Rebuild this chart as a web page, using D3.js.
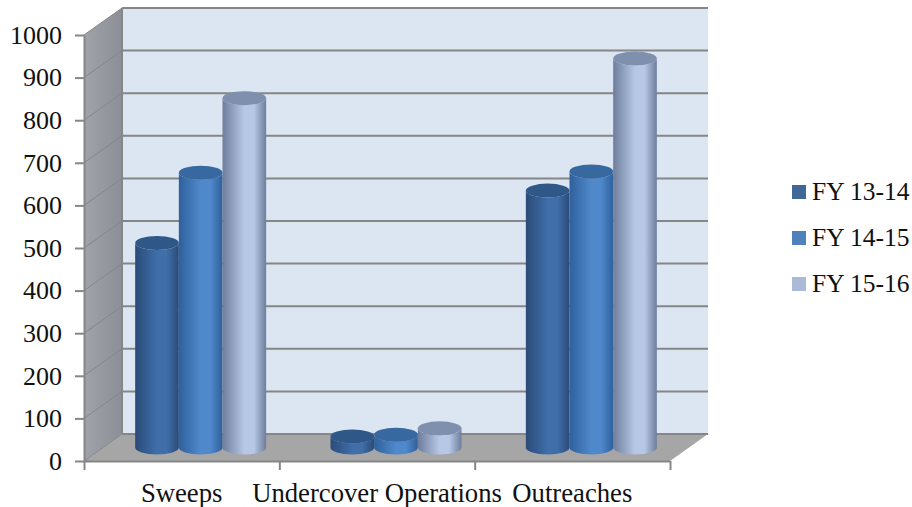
<!DOCTYPE html>
<html>
<head>
<meta charset="utf-8">
<script src="https://cdn.jsdelivr.net/npm/d3@7"></script>
<style>
  html, body { margin: 0; background: #fff; }
  svg { display: block; }
  text { font-family: "Liberation Serif", serif; fill: #111; }
  .axis path, .axis line { stroke: #868686; stroke-width: 2; }
  .axis text { font-family: "Liberation Serif", serif; font-size: 26px; fill: #111; }
  .labels text { font-size: 26.7px; }
</style>
</head>
<body>
<svg width="912" height="507"></svg>
<script>
const categories = ['Sweeps', 'Undercover Operations', 'Outreaches'];
const seriesNames = ['FY 13-14', 'FY 14-15', 'FY 15-16'];
const fy1314 = [480, 26, 603];
const fy1415 = [645, 30, 648];
const fy1516 = [820, 45, 913];
const yTicks = [0, 100, 200, 300, 400, 500, 600, 700, 800, 900, 1000];

const svg = d3.select('svg');

// front plane of the box, the back wall sits up and right of it
const front = { l: 84, r: 670, t: 35, b: 461 };
const depth = { x: 38, y: -27 };

const yScale = d3.scaleLinear().domain([0, 1000]).range([front.b, front.t]);
const xScale = d3.scaleBand().domain(categories).range([front.l, front.r]);
const xEdges = d3.scaleLinear().domain([0, categories.length]).range([front.l, front.r]);
const seriesScale = d3.scaleBand().domain(seriesNames).range([0, 131]);

const colors = [
    { edge: '#2b4b78', mid: '#3f6ea9', top: '#2f5788', legend: '#3f6797' },
    { edge: '#2f609c', mid: '#5089cb', top: '#37689f', legend: '#4f81bd' },
    { edge: '#6d7d9b', mid: '#b7c8e7', top: '#7f90ae', legend: '#aabad7' }
];

const defs = svg.append('defs');
colors.forEach(function (c, i) {
    const grad = defs.append('linearGradient').attr('id', 'cyl' + i);
    grad.append('stop').attr('offset', '0%').attr('stop-color', c.edge);
    grad.append('stop').attr('offset', '50%').attr('stop-color', c.mid);
    grad.append('stop').attr('offset', '72%').attr('stop-color', c.mid);
    grad.append('stop').attr('offset', '100%').attr('stop-color', c.edge);
});
const sideGrad = defs.append('linearGradient').attr('id', 'side');
sideGrad.append('stop').attr('offset', '0%').attr('stop-color', '#a0a3a8');
sideGrad.append('stop').attr('offset', '100%').attr('stop-color', '#8b9096');

// walls and floor
const pts = a => a.map(p => p.join(',')).join(' ');
svg.append('polygon')
    .attr('fill', '#dce6f2')
    .attr('points', pts([
        [front.l + depth.x, front.t + depth.y], [front.r + depth.x, front.t + depth.y],
        [front.r + depth.x, front.b + depth.y], [front.l + depth.x, front.b + depth.y]
    ]));
svg.append('polygon')
    .attr('fill', 'url(#side)')
    .attr('points', pts([
        [front.l, front.b], [front.l, front.t],
        [front.l + depth.x, front.t + depth.y], [front.l + depth.x, front.b + depth.y]
    ]));
svg.append('polygon')
    .attr('fill', '#a6a6a6')
    .attr('points', pts([
        [front.l, front.b], [front.r, front.b],
        [front.r + depth.x, front.b + depth.y], [front.l + depth.x, front.b + depth.y]
    ]));

// gridlines on back wall and side wall
svg.selectAll('.grid')
    .data(yTicks)
    .enter()
    .append('line')
    .attr('class', 'grid')
    .attr('x1', front.l + depth.x)
    .attr('x2', front.r + depth.x)
    .attr('y1', d => yScale(d) + depth.y)
    .attr('y2', d => yScale(d) + depth.y)
    .attr('stroke', '#868686')
    .attr('stroke-width', 2);
svg.selectAll('.grid-side')
    .data(yTicks)
    .enter()
    .append('line')
    .attr('class', 'grid-side')
    .attr('x1', front.l)
    .attr('x2', front.l + depth.x)
    .attr('y1', d => yScale(d))
    .attr('y2', d => yScale(d) + depth.y)
    .attr('stroke', '#82878c')
    .attr('stroke-width', 1);
svg.append('line')
    .attr('x1', front.l + depth.x).attr('x2', front.l + depth.x)
    .attr('y1', front.t + depth.y).attr('y2', front.b + depth.y)
    .attr('stroke', '#868686').attr('stroke-width', 2);

// cylinders stand halfway back in the box
const rx = seriesScale.bandwidth() / 2;
const ry = 7;
[fy1314, fy1415, fy1516].forEach(function (values, s) {
    const g = svg.append('g').attr('class', 'series');
    values.forEach(function (v, i) {
        const x0 = xScale(categories[i]) + (xScale.bandwidth() - 131) / 2 + depth.x / 2 + seriesScale(seriesNames[s]);
        const x1 = x0 + seriesScale.bandwidth();
        const yBase = yScale(0) + depth.y / 2;
        const yTop = yScale(v) + depth.y / 2;
        g.append('path')
            .attr('fill', `url(#cyl${s})`)
            .attr('d', `M${x0},${yTop} A${rx},${ry} 0 0 0 ${x1},${yTop} L${x1},${yBase} A${rx},${ry} 0 0 1 ${x0},${yBase} Z`);
        g.append('ellipse')
            .attr('cx', (x0 + x1) / 2)
            .attr('cy', yTop)
            .attr('rx', rx)
            .attr('ry', ry)
            .attr('fill', colors[s].top);
    });
});

// axes
svg.append('g')
    .attr('class', 'axis')
    .attr('transform', `translate(${front.l},0)`)
    .call(d3.axisLeft(yScale).tickValues(yTicks).tickFormat(d3.format('d')).tickSize(9).tickSizeOuter(0).tickPadding(13));
svg.append('g')
    .attr('class', 'axis')
    .attr('transform', `translate(0,${front.b})`)
    .call(d3.axisBottom(xEdges).ticks(categories.length).tickSize(9).tickSizeOuter(0).tickFormat(''));
const labels = svg.append('g')
    .attr('class', 'axis labels')
    .attr('transform', `translate(0,${front.b})`)
    .call(d3.axisBottom(xScale).tickSize(0).tickPadding(22));
labels.select('.domain').remove();

// legend
const legend = svg.selectAll('.legend')
    .data(seriesNames)
    .enter()
    .append('g')
    .attr('class', 'legend')
    .attr('transform', (d, i) => `translate(792,${185 + i * 46})`);
legend.append('rect')
    .attr('width', 14)
    .attr('height', 14)
    .attr('fill', (d, i) => colors[i].legend);
legend.append('text')
    .attr('x', 20)
    .attr('y', 15)
    .attr('font-size', 25.5)
    .text(d => d);
</script>
</body>
</html>
